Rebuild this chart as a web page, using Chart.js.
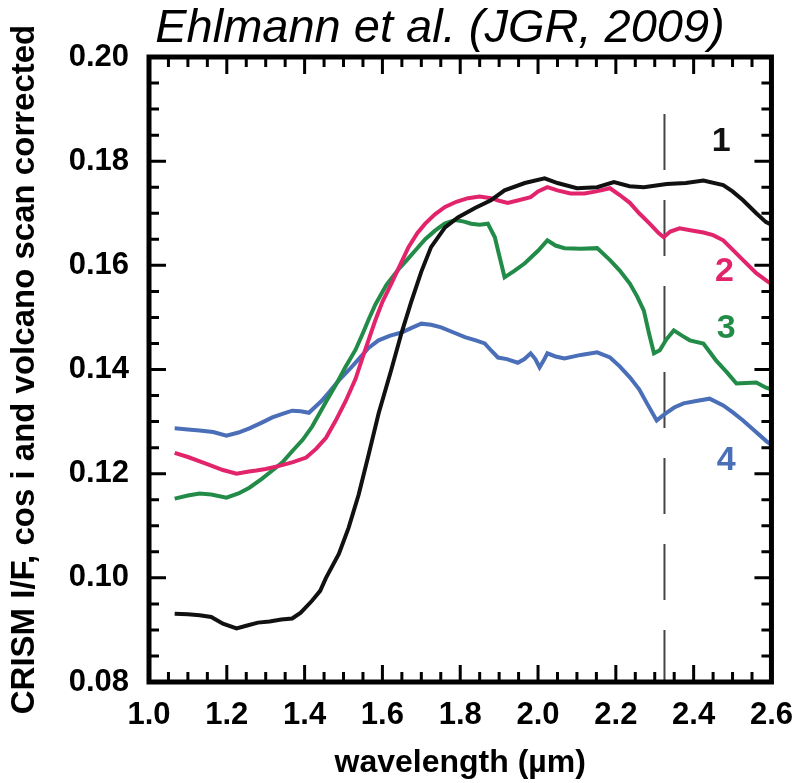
<!DOCTYPE html>
<html>
<head>
<meta charset="utf-8">
<title>CRISM spectra</title>
<script src="https://cdn.jsdelivr.net/npm/chart.js@4.4.1/dist/chart.umd.min.js"></script>
<style>
  body { margin: 0; background: #fff; }
  canvas { display: block; }
</style>
</head>
<body>
<canvas id="spectraChart" width="808" height="783"></canvas>
<script>
// wavelength (µm) and I/F
const wave1 = [1.066, 1.10, 1.13, 1.16, 1.19, 1.225, 1.25, 1.28, 1.31, 1.34, 1.368, 1.39, 1.419, 1.44, 1.455, 1.488, 1.513, 1.539, 1.564, 1.59, 1.623, 1.649, 1.674, 1.70, 1.725, 1.761, 1.794, 1.838, 1.879, 1.914, 1.966, 2.017, 2.05, 2.10, 2.152, 2.195, 2.235, 2.272, 2.331, 2.38, 2.425, 2.476, 2.50, 2.527, 2.561, 2.586, 2.60];
const spec1 = [0.0931, 0.0930, 0.0928, 0.0925, 0.0912, 0.0903, 0.0908, 0.0914, 0.0916, 0.0920, 0.0922, 0.0933, 0.0956, 0.0975, 0.1000, 0.1046, 0.1096, 0.1160, 0.1235, 0.1315, 0.1400, 0.1470, 0.1530, 0.1588, 0.1635, 0.1673, 0.1692, 0.1710, 0.1725, 0.1744, 0.1758, 0.1767, 0.1758, 0.1748, 0.1750, 0.1760, 0.1752, 0.1750, 0.1756, 0.1758, 0.1763, 0.1754, 0.1742, 0.1725, 0.1700, 0.1683, 0.1678];

const wave2 = [1.066, 1.10, 1.148, 1.19, 1.225, 1.257, 1.276, 1.30, 1.335, 1.37, 1.404, 1.43, 1.455, 1.48, 1.506, 1.531, 1.55, 1.582, 1.60, 1.623, 1.645, 1.667, 1.69, 1.71, 1.735, 1.761, 1.79, 1.82, 1.85, 1.879, 1.90, 1.922, 1.95, 1.981, 2.0, 2.024, 2.05, 2.083, 2.119, 2.15, 2.185, 2.21, 2.236, 2.26, 2.287, 2.31, 2.323, 2.34, 2.364, 2.395, 2.425, 2.45, 2.476, 2.50, 2.527, 2.561, 2.594, 2.60];
const spec2 = [0.1240, 0.1232, 0.1219, 0.1207, 0.1200, 0.1204, 0.1206, 0.1209, 0.1215, 0.1222, 0.1231, 0.1248, 0.1269, 0.1302, 0.1340, 0.1382, 0.1425, 0.1495, 0.1530, 0.1565, 0.1600, 0.1635, 0.1662, 0.1680, 0.1698, 0.1712, 0.1722, 0.1729, 0.1732, 0.1729, 0.1724, 0.1720, 0.1725, 0.1731, 0.1742, 0.1750, 0.1744, 0.1738, 0.1738, 0.1742, 0.1748, 0.1735, 0.1720, 0.1700, 0.1680, 0.1662, 0.1654, 0.1665, 0.1671, 0.1667, 0.1663, 0.1658, 0.1648, 0.1630, 0.1610, 0.1585, 0.1567, 0.1565];

const wave3 = [1.066, 1.10, 1.13, 1.16, 1.199, 1.23, 1.258, 1.29, 1.317, 1.343, 1.368, 1.395, 1.419, 1.44, 1.455, 1.48, 1.505, 1.531, 1.55, 1.564, 1.582, 1.61, 1.641, 1.665, 1.685, 1.71, 1.736, 1.76, 1.787, 1.81, 1.828, 1.85, 1.871, 1.889, 1.90, 1.914, 1.94, 1.966, 2.0, 2.024, 2.045, 2.068, 2.11, 2.152, 2.185, 2.21, 2.236, 2.255, 2.272, 2.285, 2.298, 2.313, 2.33, 2.349, 2.37, 2.39, 2.425, 2.44, 2.458, 2.485, 2.51, 2.535, 2.561, 2.586, 2.60];
const spec3 = [0.1152, 0.1158, 0.1162, 0.1160, 0.1154, 0.1162, 0.1173, 0.1190, 0.1206, 0.1222, 0.1243, 0.1265, 0.1290, 0.1318, 0.1338, 0.1370, 0.1405, 0.1438, 0.1470, 0.1495, 0.1525, 0.1562, 0.1592, 0.1612, 0.1629, 0.1650, 0.1667, 0.1680, 0.1687, 0.1684, 0.1680, 0.1678, 0.1680, 0.1654, 0.1620, 0.1577, 0.1590, 0.1604, 0.1628, 0.1648, 0.1638, 0.1633, 0.1632, 0.1633, 0.1610, 0.1590, 0.1565, 0.1540, 0.1513, 0.1470, 0.1431, 0.1437, 0.1458, 0.1475, 0.1465, 0.1456, 0.1450, 0.1435, 0.1417, 0.1395, 0.1373, 0.1374, 0.1375, 0.1365, 0.1362];

const wave4 = [1.066, 1.10, 1.13, 1.165, 1.199, 1.23, 1.258, 1.29, 1.317, 1.343, 1.368, 1.39, 1.411, 1.444, 1.465, 1.488, 1.515, 1.539, 1.565, 1.59, 1.62, 1.649, 1.675, 1.70, 1.725, 1.751, 1.78, 1.812, 1.84, 1.863, 1.88, 1.897, 1.92, 1.948, 1.965, 1.981, 1.993, 2.004, 2.015, 2.024, 2.045, 2.068, 2.11, 2.152, 2.185, 2.21, 2.236, 2.26, 2.28, 2.305, 2.318, 2.331, 2.35, 2.374, 2.41, 2.441, 2.476, 2.50, 2.527, 2.556, 2.586, 2.60];
const spec4 = [0.1287, 0.1285, 0.1283, 0.1280, 0.1273, 0.1279, 0.1287, 0.1298, 0.1308, 0.1315, 0.1321, 0.1320, 0.1317, 0.1340, 0.1358, 0.1379, 0.1400, 0.1420, 0.1442, 0.1456, 0.1465, 0.1471, 0.1480, 0.1488, 0.1486, 0.1481, 0.1472, 0.1462, 0.1456, 0.1450, 0.1436, 0.1423, 0.1420, 0.1413, 0.1420, 0.1431, 0.1420, 0.1404, 0.1418, 0.1431, 0.1425, 0.1421, 0.1428, 0.1433, 0.1423, 0.1406, 0.1385, 0.1362, 0.1335, 0.1302, 0.1310, 0.1317, 0.1327, 0.1335, 0.1340, 0.1344, 0.1331, 0.1318, 0.1302, 0.1283, 0.1263, 0.1255];

// vertical dashed marker at 2.32 µm
const markerWave = 2.325;
const markerSpan = [0.08, 0.19];

const spectrumNames = ['1', '2', '3', '4'];
const labelWave = [2.471, 2.479, 2.484, 2.484];
const labelValue = [0.1837, 0.1587, 0.1479, 0.1225];
const colors = ['#111111', '#e2246c', '#228b47', '#4a6fb8'];

const FONT = '"Liberation Sans", Arial, Helvetica, sans-serif';

function toPoints(xs, ys) {
    return xs.map((x, i) => ({ x: x, y: ys[i] }));
}

const frame = {
    id: 'frame',
    afterDatasetsDraw(chart) {
        const { ctx, chartArea: a, scales: { x, y } } = chart;
        ctx.save();
        ctx.strokeStyle = '#000';
        // inward ticks on all four sides
        ctx.lineWidth = 3;
        ctx.beginPath();
        for (let i = 0; i <= 32; i++) {
            const px = x.getPixelForValue(1.0 + i * 0.05);
            const len = i % 4 === 0 ? 17 : 10;
            ctx.moveTo(px, a.bottom); ctx.lineTo(px, a.bottom - len);
            ctx.moveTo(px, a.top); ctx.lineTo(px, a.top + len);
        }
        for (let i = 0; i <= 24; i++) {
            const py = y.getPixelForValue(0.08 + i * 0.005);
            const len = i % 4 === 0 ? 17 : 10;
            ctx.moveTo(a.left, py); ctx.lineTo(a.left + len, py);
            ctx.moveTo(a.right, py); ctx.lineTo(a.right - len, py);
        }
        ctx.stroke();
        ctx.lineWidth = 5;
        ctx.strokeRect(a.left, a.top, a.right - a.left, a.bottom - a.top);

        // spectrum numbers
        ctx.font = 'bold 34px ' + FONT;
        ctx.textAlign = 'center';
        ctx.textBaseline = 'middle';
        spectrumNames.forEach((name, i) => {
            ctx.fillStyle = colors[i];
            ctx.fillText(name, x.getPixelForValue(labelWave[i]), y.getPixelForValue(labelValue[i]));
        });

        // citation title
        ctx.fillStyle = '#000';
        ctx.font = 'italic 47px ' + FONT;
        ctx.textBaseline = 'alphabetic';
        ctx.fillText('Ehlmann et al. (JGR, 2009)', 440, 42);
        ctx.restore();
    }
};

const curves = [spec1, spec2, spec3, spec4].map((s, i) => ({
    label: spectrumNames[i],
    data: toPoints([wave1, wave2, wave3, wave4][i], s),
    borderColor: colors[i],
    borderWidth: 4,
    pointRadius: 0,
    showLine: true,
    tension: 0
}));

curves.push({
    label: 'marker',
    data: [{ x: markerWave, y: markerSpan[0] }, { x: markerWave, y: markerSpan[1] }],
    borderColor: '#444',
    borderWidth: 2,
    borderDash: [56, 30],
    borderDashOffset: 4,
    pointRadius: 0,
    showLine: true
});

new Chart(document.getElementById('spectraChart').getContext('2d'), {
    type: 'scatter',
    data: { datasets: curves },
    options: {
        responsive: false,
        animation: false,
        layout: { padding: { top: 57, right: 33, bottom: 0, left: 0 } },
        plugins: { legend: { display: false }, tooltip: { enabled: false }, title: { display: false } },
        scales: {
            x: {
                type: 'linear',
                min: 1.0,
                max: 2.6,
                afterFit: s => { s.height = 101; },
                grid: { display: false, drawTicks: false },
                border: { display: false },
                ticks: {
                    stepSize: 0.2,
                    padding: 15,
                    color: '#000',
                    font: { family: FONT, size: 31, weight: 'bold' },
                    callback: v => Number(v).toFixed(1)
                },
                title: {
                    display: true,
                    text: 'wavelength (µm)',
                    color: '#000',
                    padding: { top: 0, bottom: 1 },
                    font: { family: FONT, size: 32, weight: 'bold' }
                }
            },
            y: {
                type: 'linear',
                min: 0.08,
                max: 0.20,
                afterFit: s => { s.width = 149; },
                grid: { display: false, drawTicks: false },
                border: { display: false },
                ticks: {
                    stepSize: 0.02,
                    padding: 20,
                    color: '#000',
                    font: { family: FONT, size: 31, weight: 'bold' },
                    callback: v => Number(v).toFixed(2)
                },
                title: {
                    display: true,
                    text: 'CRISM I/F, cos i and volcano scan corrected',
                    color: '#000',
                    padding: { top: 5, bottom: 0 },
                    font: { family: FONT, size: 33, weight: 'bold' }
                }
            }
        }
    },
    plugins: [frame]
});
</script>
</body>
</html>
